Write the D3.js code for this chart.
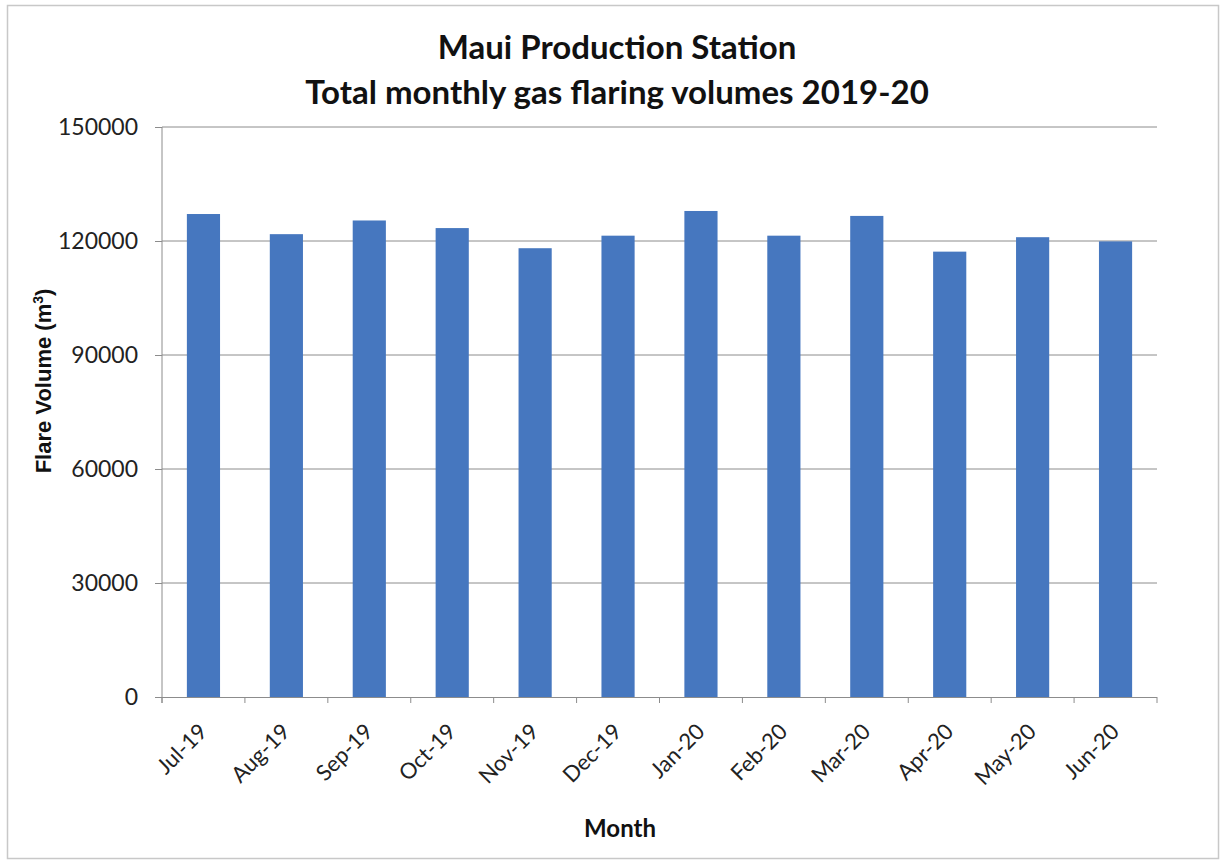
<!DOCTYPE html>
<html>
<head>
<meta charset="utf-8">
<script src="https://cdn.jsdelivr.net/npm/d3@7"></script>
<style>
  body { margin: 0; background: #fff; }
  .tick text { font-family: Lato, "Open Sans", sans-serif; }
</style>
</head>
<body>
<div id="chart"></div>
<script>
'use strict'

// Chart data
const months = ['Jul-19', 'Aug-19', 'Sep-19', 'Oct-19', 'Nov-19', 'Dec-19',
  'Jan-20', 'Feb-20', 'Mar-20', 'Apr-20', 'May-20', 'Jun-20']
const flareVolumes = [127100, 121800, 125400, 123400, 118100, 121400,
  127900, 121400, 126600, 117200, 121000, 119900]
const yTicks = [0, 30000, 60000, 90000, 120000, 150000]

const width = 1225,
  height = 863
const plot = { left: 162, right: 1157, top: 127, bottom: 697 }

let svg = d3.select('#chart')
  .append('svg')
  .attr('width', width)
  .attr('height', height)

// outer frame
svg.append('rect')
  .attr('x', 7.5).attr('y', 5.5)
  .attr('width', 1211).attr('height', 853)
  .attr('fill', '#fff')
  .attr('stroke', '#c8c8c8')
  .attr('stroke-width', 1.5)

const xScale = d3.scaleBand()
  .domain(months)
  .range([plot.left, plot.right])
  .paddingInner(0.6)
  .paddingOuter(0.3)

const yScale = d3.scaleLinear()
  .domain([0, 150000])
  .range([plot.bottom, plot.top])

// gridlines
svg.append('g')
  .selectAll('line')
  .data(yTicks.filter(d => d > 0))
  .enter()
  .append('line')
  .attr('x1', plot.left)
  .attr('x2', plot.right)
  .attr('y1', d => yScale(d))
  .attr('y2', d => yScale(d))
  .attr('stroke', '#8c8c8c')
  .attr('stroke-width', 1)

// bars
svg.append('g')
  .selectAll('rect')
  .data(flareVolumes)
  .enter()
  .append('rect')
  .attr('fill', '#4677bf')
  .attr('x', (d, i) => xScale(months[i]))
  .attr('width', xScale.bandwidth())
  .attr('y', d => yScale(d))
  .attr('height', d => plot.bottom - yScale(d))

// y axis
const axisLeft = d3.axisLeft(yScale)
  .tickValues(yTicks)
  .tickSize(7)
  .tickPadding(17)
  .tickFormat(d3.format('d'))
let gy = svg.append('g')
  .attr('transform', `translate(${plot.left}, 0)`)
  .call(axisLeft)
gy.select('.domain').remove()
gy.append('line')
  .attr('x1', 0).attr('x2', 0)
  .attr('y1', plot.top).attr('y2', plot.bottom + 6)
  .attr('stroke', '#8c8c8c')
gy.selectAll('.tick line').attr('stroke', '#8c8c8c')
gy.selectAll('.tick text')
  .attr('font-size', 23)
  .attr('fill', '#222')

// x axis: ticks on category boundaries
const boundaries = months.map(m => xScale(m) - xScale.step() * xScale.paddingOuter())
boundaries.push(plot.right)
let gx = svg.append('g')
gx.append('line')
  .attr('x1', plot.left).attr('x2', plot.right)
  .attr('y1', plot.bottom + 0.5).attr('y2', plot.bottom + 0.5)
  .attr('stroke', '#8c8c8c')
gx.selectAll('.bt')
  .data(boundaries)
  .enter()
  .append('line')
  .attr('x1', d => d).attr('x2', d => d)
  .attr('y1', plot.bottom).attr('y2', plot.bottom + 6)
  .attr('stroke', '#8c8c8c')
gx.selectAll('text')
  .data(months)
  .enter()
  .append('text')
  .attr('transform', d => `translate(${xScale(d) + xScale.bandwidth() / 2 + 5}, ${plot.bottom + 36}) rotate(-45)`)
  .attr('text-anchor', 'end')
  .attr('font-family', 'Lato, "Open Sans", sans-serif')
  .attr('font-size', 22)
  .attr('fill', '#222')
  .text(d => d)

// titles
const title = svg.append('text')
  .attr('x', 617)
  .attr('text-anchor', 'middle')
  .attr('font-family', 'Lato, "Open Sans", sans-serif')
  .attr('font-weight', 'bold')
  .attr('font-size', 33)
  .attr('fill', '#111')
title.append('tspan').attr('x', 617).attr('y', 59).text('Maui Production Station')
title.append('tspan').attr('x', 617).attr('y', 104).text('Total monthly gas flaring volumes 2019-20')

svg.append('text')
  .attr('x', 620)
  .attr('y', 837)
  .attr('text-anchor', 'middle')
  .attr('font-family', 'Lato, "Open Sans", sans-serif')
  .attr('font-weight', 'bold')
  .attr('font-size', 24)
  .attr('fill', '#111')
  .text('Month')

const yTitle = svg.append('text')
  .attr('transform', 'translate(51, 381) rotate(-90)')
  .attr('text-anchor', 'middle')
  .attr('font-family', '"Liberation Sans", Arial, sans-serif')
  .attr('font-weight', 'bold')
  .attr('font-size', 22)
  .attr('fill', '#111')
yTitle.append('tspan').text('Flare Volume (m')
yTitle.append('tspan').attr('font-size', 14).attr('dy', -8).text('3')
yTitle.append('tspan').attr('dy', 8).text(')')
</script>
</body>
</html>
